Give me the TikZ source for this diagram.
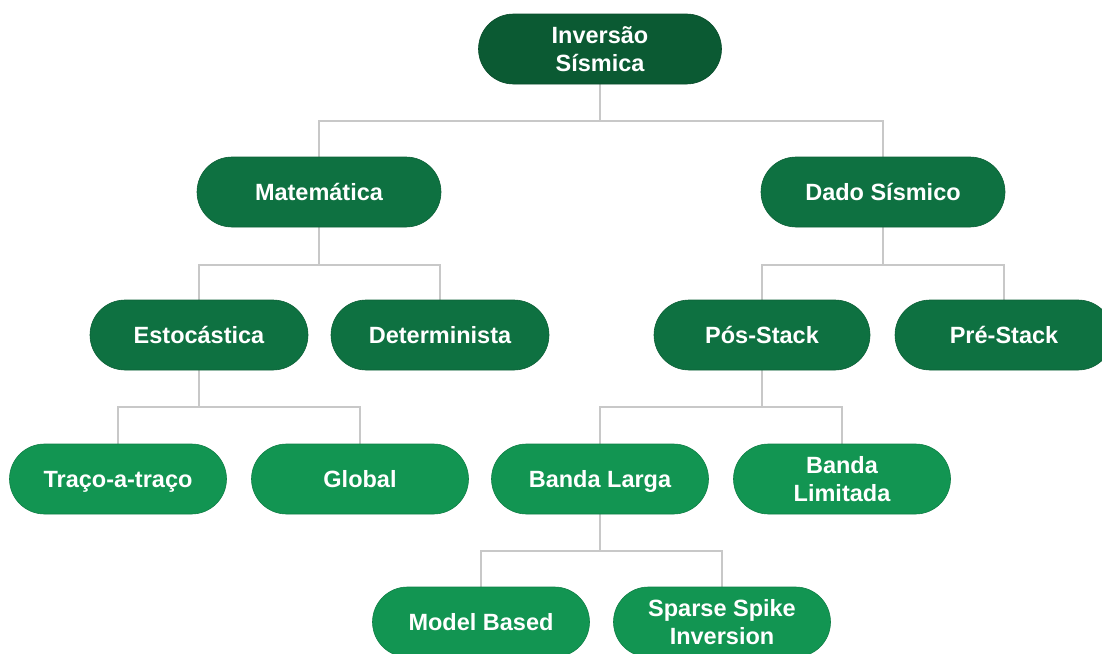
\documentclass[tikz,border=0pt]{standalone}
\usepackage{fontspec}
\setmainfont{Liberation Sans}
\usetikzlibrary{backgrounds}
\definecolor{gdark}{HTML}{0B5A33}
\definecolor{gmid}{HTML}{0E7141}
\definecolor{glight}{HTML}{129552}
\definecolor{conncol}{HTML}{C8C8C8}
\tikzset{
  pill/.style={rectangle, rounded corners=35pt, minimum height=70pt, inner sep=0pt,
    text height=22pt, text depth=5pt,
    text=white, align=center, font=\fontsize{23.5}{28}\selectfont\bfseries},
  twoline/.style={text height=50pt, text depth=5pt},
  rootpill/.style={pill, fill=gdark, draw=gdark!85!black, line width=0.6pt, minimum width=243pt},
  midpill/.style={pill, fill=gmid, draw=gmid!85!black, line width=0.6pt},
  lightpill/.style={pill, fill=glight, draw=glight!85!black, line width=0.6pt, minimum width=217pt},
  conn/.style={draw=conncol, line width=2pt}
}
\begin{document}
\begin{tikzpicture}[x=1pt,y=-1pt]
\useasboundingbox (0,0) rectangle (1102,653);

% nodes
\node[rootpill, twoline] (root) at (600,49) {Inversão\\Sísmica};
\node[midpill, minimum width=244pt] (mat) at (319,192) {Matemática};
\node[midpill, minimum width=244pt] (dado) at (883,192) {Dado Sísmico};
\node[midpill, minimum width=218pt] (esto) at (199,335) {Estocástica};
\node[midpill, minimum width=218pt] (det) at (440,335) {Determinista};
\node[midpill, minimum width=216pt] (pos) at (762,335) {Pós-Stack};
\node[midpill, minimum width=218pt] (pre) at (1004,335) {Pré-Stack};
\node[lightpill] (traco) at (118,479) {Traço-a-traço};
\node[lightpill] (global) at (360,479) {Global};
\node[lightpill] (larga) at (600,479) {Banda Larga};
\node[lightpill, twoline] (limit) at (842,479) {Banda\\Limitada};
\node[lightpill] (model) at (481,622) {Model Based};
\node[lightpill, twoline] (sparse) at (722,622) {Sparse Spike\\Inversion};

\begin{scope}[on background layer]
  \draw[conn] (root.south) -- ++(0,37) -| (mat.north);
  \draw[conn] (root.south) -- ++(0,37) -| (dado.north);
  \draw[conn] (mat.south) -- ++(0,38) -| (esto.north);
  \draw[conn] (mat.south) -- ++(0,38) -| (det.north);
  \draw[conn] (dado.south) -- ++(0,38) -| (pos.north);
  \draw[conn] (dado.south) -- ++(0,38) -| (pre.north);
  \draw[conn] (esto.south) -- ++(0,37) -| (traco.north);
  \draw[conn] (esto.south) -- ++(0,37) -| (global.north);
  \draw[conn] (pos.south) -- ++(0,37) -| (larga.north);
  \draw[conn] (pos.south) -- ++(0,37) -| (limit.north);
  \draw[conn] (larga.south) -- ++(0,37) -| (model.north);
  \draw[conn] (larga.south) -- ++(0,37) -| (sparse.north);
\end{scope}
\end{tikzpicture}
\end{document}
